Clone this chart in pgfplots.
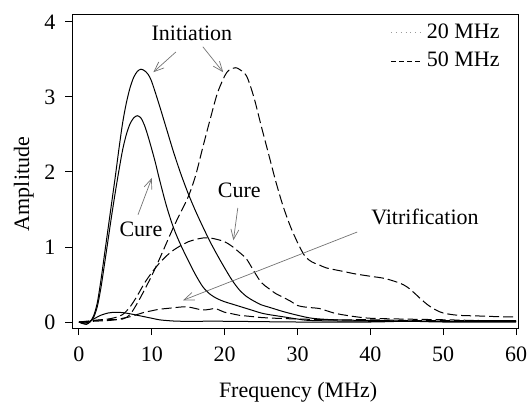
\documentclass[border=0pt]{standalone}
\usepackage{fontspec}
\setmainfont{Liberation Serif}
\usepackage{pgfplots}
\pgfplotsset{compat=1.18}
\usetikzlibrary{arrows.meta}
\begin{document}
\fontsize{11}{13}\selectfont
\begin{tikzpicture}
\begin{axis}[name=ax,
  scale only axis, width=223pt, height=156.5pt,
  xmin=-0.96, xmax=60.27, ymin=-0.08, ymax=4.093,
  xtick={0,10,20,30,40,50,60}, ytick={0,1,2,3,4},
  tick align=outside, tick pos=left, major tick length=3.5pt,
  /pgf/number format/assume math mode=true,
  ticklabel style={font=\fontsize{11}{13}\selectfont},
  xticklabel style={yshift=-2pt},
  yticklabel style={xshift=-1pt},
  axis line style={line width=0.5pt},
  every tick/.style={line width=0.5pt, black},
  xlabel={Frequency (MHz)}, ylabel={Amplitude},
  xlabel style={at={(axis description cs:0.507,-0.205)}, anchor=center},
  ylabel style={at={(axis description cs:-0.108,0.46)}, anchor=center},
  label style={font=\fontsize{11}{13}\selectfont},
  legend style={draw=none, fill=none, at={(axis description cs:1,1)}, anchor=north east,
    xshift=-4pt, yshift=0pt, font=\fontsize{11}{13}\selectfont, row sep=1.5pt},
  legend cell align=left,
  legend image code/.code={\draw[#1] (0cm,0cm) -- (0.55cm,0cm);},
]
\addlegendimage{line width=0.4pt, black!40, dotted}
\addlegendentry{20 MHz}
\addlegendimage{line width=0.4pt, black, dash pattern=on 2.5pt off 1.5pt}
\addlegendentry{50 MHz}

% 20 MHz solid curves
\addplot[forget plot, black, line width=0.5pt, smooth] coordinates {
(0,0) (0.5,-0.02) (1,-0.03) (1.5,0.0) (2,0.08) (2.5,0.25) (3,0.55) (3.5,0.9) (4,1.25) (4.5,1.6) (5,1.95) (5.5,2.32) (6,2.66) (6.5,2.92) (7,3.12) (7.5,3.26) (8,3.34) (8.5,3.37) (9,3.35) (9.5,3.3) (10,3.2) (11,2.9) (12,2.58) (13,2.26) (14,1.97) (15,1.71) (16,1.48) (17,1.27) (18,1.07) (19,0.89) (20,0.72) (21,0.56) (22,0.43) (23,0.34) (24,0.28) (25,0.23) (26,0.2) (27,0.17) (28,0.14) (30,0.09) (32,0.05) (35,0.03) (40,0.02) (50,0.01) (60,0.01)};
\addplot[forget plot, black, line width=0.5pt, smooth] coordinates {
(0,0) (0.5,-0.02) (1,-0.03) (1.5,0.0) (2,0.06) (2.5,0.2) (3,0.45) (3.5,0.77) (4,1.1) (4.5,1.43) (5,1.74) (5.5,2.03) (6,2.3) (6.5,2.5) (7,2.64) (7.5,2.72) (8,2.75) (8.5,2.72) (9,2.62) (9.5,2.47) (10,2.3) (10.5,2.12) (11,1.92) (12,1.55) (13,1.25) (14,1.02) (15,0.82) (16,0.63) (17,0.47) (18,0.37) (19,0.31) (20,0.27) (21,0.24) (22,0.21) (23,0.18) (24,0.15) (25,0.12) (26,0.1) (28,0.07) (30,0.04) (32,0.02) (40,0.01) (60,0.01)};
\addplot[forget plot, black, line width=0.5pt, smooth] coordinates {
(0,0) (1,-0.01) (2,0.04) (3,0.09) (4,0.12) (5,0.13) (6,0.125) (7,0.11) (8,0.09) (9,0.07) (10,0.05) (11,0.03) (12,0.02) (14,0.01) (20,0.01) (30,0.0) (40,0.0) (45,0.01) (50,0.0) (60,0.0)};

% 50 MHz dashed curves
\addplot[forget plot, black, line width=0.5pt, smooth, dash pattern=on 5pt off 2pt] coordinates {
(0,0) (2,0.02) (4,0.03) (6,0.04) (7,0.1) (8,0.25) (9,0.43) (10,0.62) (11,0.83) (12,1.05) (13,1.27) (14,1.47) (15,1.67) (16,1.95) (17,2.33) (18,2.7) (19,3.05) (20,3.28) (20.5,3.35) (21,3.38) (21.5,3.39) (22,3.37) (23,3.28) (24,3.0) (25,2.62) (26,2.25) (27,1.88) (28,1.55) (29,1.28) (30,1.06) (31,0.88) (32,0.8) (33,0.76) (34,0.72) (36,0.68) (38,0.64) (40,0.61) (42,0.58) (44,0.52) (45,0.47) (46,0.39) (47,0.3) (48,0.22) (49,0.16) (50,0.12) (52,0.09) (55,0.08) (58,0.07) (60,0.07)};
\addplot[forget plot, black, line width=0.5pt, smooth, dash pattern=on 5pt off 2pt] coordinates {
(0,0) (1,0.0) (2,0.02) (3,0.03) (4,0.04) (5,0.06) (6,0.1) (7,0.2) (8,0.35) (9,0.52) (10,0.66) (11,0.78) (12,0.88) (13,0.96) (14,1.02) (15,1.07) (16,1.1) (17,1.12) (18,1.12) (19,1.1) (20,1.07) (21,1.01) (22,0.93) (23,0.84) (24,0.68) (25,0.53) (26,0.45) (27,0.38) (28,0.33) (29,0.28) (30,0.22) (31,0.2) (32,0.19) (33,0.18) (34,0.15) (35,0.12) (36,0.1) (38,0.07) (40,0.05) (44,0.04) (50,0.03) (55,0.02) (60,0.02)};
\addplot[forget plot, black, line width=0.5pt, smooth, dash pattern=on 5pt off 2pt] coordinates {
(0,0) (2,0.01) (4,0.02) (5,0.03) (6,0.05) (7,0.07) (8,0.1) (9,0.13) (10,0.15) (11,0.17) (12,0.18) (13,0.19) (14,0.2) (15,0.2) (16,0.18) (17,0.16) (18,0.17) (18.5,0.18) (19,0.17) (20,0.13) (21,0.11) (22,0.09) (23,0.08) (24,0.07) (25,0.06) (27,0.05) (30,0.04) (35,0.03) (40,0.03) (45,0.02) (50,0.02) (55,0.02) (60,0.02)};

% annotations
\node[font=\fontsize{11}{13}\selectfont] at (axis cs:15.5,3.85) {Initiation};
\draw[black!55, line width=0.35pt, -{Straight Barb[length=5pt,width=4pt]}] (axis cs:13.3,3.6) -- (axis cs:10.2,3.33);
\draw[black!55, line width=0.35pt, -{Straight Barb[length=5pt,width=4pt]}] (axis cs:17.0,3.67) -- (axis cs:19.8,3.33);
\node[font=\fontsize{11}{13}\selectfont] at (axis cs:8.5,1.23) {Cure};
\draw[black!55, line width=0.35pt, -{Straight Barb[length=5pt,width=4pt]}] (axis cs:8.1,1.43) -- (axis cs:10.0,1.92);
\node[font=\fontsize{11}{13}\selectfont] at (axis cs:22.0,1.76) {Cure};
\draw[black!55, line width=0.35pt, -{Straight Barb[length=5pt,width=4pt]}] (axis cs:21.8,1.52) -- (axis cs:21.2,1.09);
\node[font=\fontsize{11}{13}\selectfont] at (axis cs:47.5,1.4) {Vitrification};
\draw[black!55, line width=0.35pt, -{Straight Barb[length=5pt,width=4pt]}] (axis cs:38.2,1.2) -- (axis cs:14.3,0.29);
\end{axis}
\pgfresetboundingbox
\path ([shift={(-36pt,-39.5pt)}]ax.south west) rectangle ([shift={(4.5pt,7.5pt)}]ax.north east);
\end{tikzpicture}
\end{document}
